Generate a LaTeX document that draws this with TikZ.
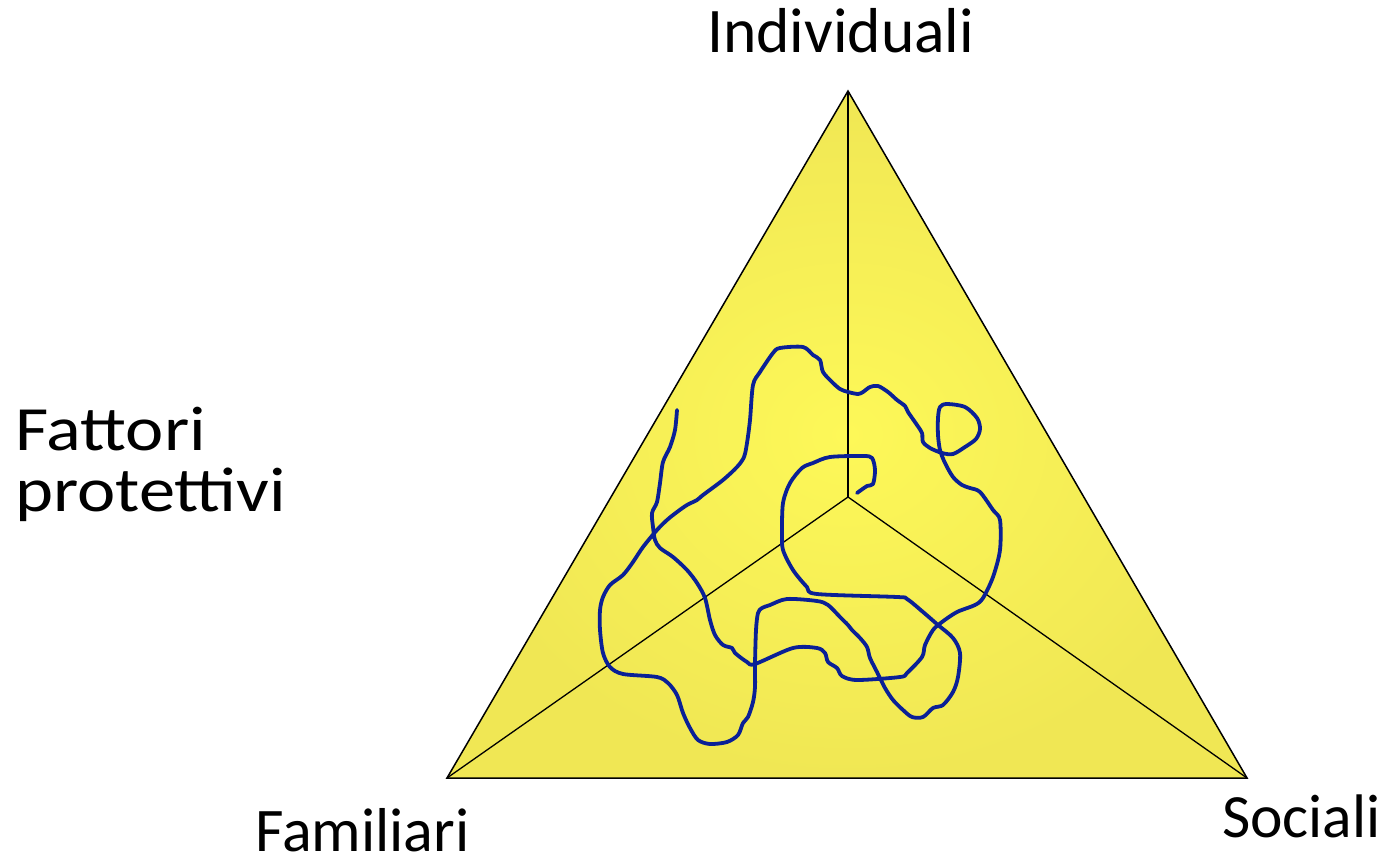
\documentclass[tikz,border=0pt]{standalone}
\usepackage{fontspec}
\setmainfont{Carlito}
\definecolor{triin}{RGB}{253,248,88}
\definecolor{triout}{RGB}{240,231,84}
\definecolor{curveblue}{RGB}{10,32,150}
\tikzset{
  lbl/.style={inner sep=0pt, anchor=base west},
  edge/.style={line width=1.5pt, black, line join=miter},
  spoke/.style={line width=1.3pt, black},
  wiggle/.style={line width=3.8pt, curveblue, line cap=round, line join=round}
}
\begin{document}
\begin{tikzpicture}[x=1pt,y=-1pt]
\useasboundingbox (0,0) rectangle (1387,858);
\coordinate (top) at (848,91);
\coordinate (bl) at (447,778);
\coordinate (br) at (1247,778);
\coordinate (ctr) at (848,497);
\shade[inner color=triin, outer color=triout] (top) -- (bl) -- (br) -- cycle;
\draw[spoke] (ctr) -- (top);
\draw[spoke] (ctr) -- (bl);
\draw[spoke] (ctr) -- (br);
\draw[edge] (top) -- (bl) -- (br) -- cycle;
\draw[wiggle] plot[smooth, tension=0.5] coordinates {
(677,410) (675,430) (670,447) (663,462) (660,483) (657,502) (652,513) (653,527) (655,540) (660,548) (673,557) (687,570) (697,583) (705,598) (710,620) (715,635) (723,645) (732,648) (735,653) (747,662) (755,664)
(793,648) (817,648) (825,653) (828,662) (837,668) (842,676) (857,680) (900,677) (907,673) (922,657) (925,645) (933,630) (942,622) (957,612) (975,605) (983,598) (993,577) (1000,550) (1000,520)
(993,510) (980,492) (970,488) (962,485) (953,477) (945,463) (940,450) (938,435) (938,418) (940,407) (947,404) (965,407) (977,418) (980,429) (976,439) (965,447) (953,454) (942,453) (930,448) (923,442) (922,433) (917,425) (908,412) (905,406) (897,400) (888,392) (878,386) (870,387) (863,392) (858,394) (848,392) (840,389) (832,382) (823,372) (820,360) (813,355) (803,347) (780,348) (773,353) (760,372)
(753,385) (750,420) (747,443) (744,457) (737,467) (723,480) (703,495) (697,500) (687,505) (677,512) (667,520) (657,530) (643,547) (633,562) (623,575) (610,585) (603,597) (600,610) (600,630) (603,653) (610,667) (623,674) (657,677) (668,683) (677,695) (683,713) (690,728) (698,740) (710,744) (727,742) (738,735) (743,723) (748,717) (753,702) (755,687) (755,664) (756,630) (758,613) (762,608) (770,605) (787,599) (817,601) (828,605) (840,617) (848,625) (852,630) (860,638) (867,647) (870,658) (877,672) (885,688) (893,700) (903,710) (912,717) (923,717) (933,708) (943,705) (953,692) (958,677) (960,653) (953,638) (938,625) (923,612) (907,599) (897,597) (817,594) (807,587) (793,570) (783,550) (782,533) (783,503) (790,483) (802,468) (813,463) (830,457) (863,456) (872,458) (875,470) (873,484) (867,486) (857,493)
};
\node[lbl, font=\fontsize{63.5}{63.5}\selectfont] (ind) at (707,53) {Individuali};
\node[lbl, font=\fontsize{62}{62}\selectfont] (fam) at (255,851) {Familiari};
\node[lbl, font=\fontsize{61.5}{61.5}\selectfont] (soc) at (1222,837) {Sociali};
\node[lbl, font=\fontsize{63}{63}\selectfont, xscale=1.15] (fat1) at (15,450) {Fattori};
\node[lbl, font=\fontsize{63}{63}\selectfont, xscale=1.15] (fat2) at (15,511) {protettivi};
\end{tikzpicture}
\end{document}
